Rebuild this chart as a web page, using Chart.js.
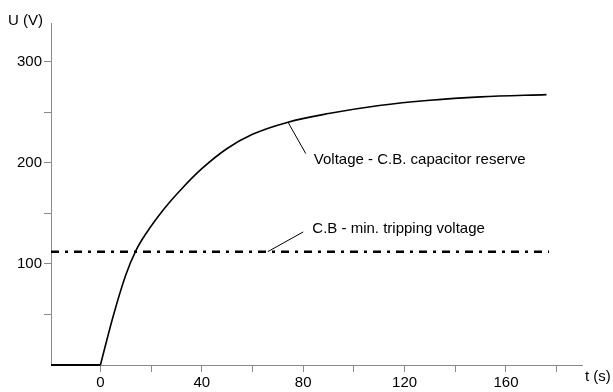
<!DOCTYPE html>
<html>
<head>
<meta charset="utf-8">
<script src="https://cdn.jsdelivr.net/npm/chart.js@4/dist/chart.umd.min.js"></script>
<style>
  html, body { margin: 0; padding: 0; background: #fff; }
  #wrap { width: 613px; height: 392px; }
</style>
</head>
<body>
<div id="wrap"><canvas id="graph-1"></canvas></div>
<script>
// values
const flatTime = [-19.5, 0];
const flatVoltage = [0, 0];
const timeS = [0, 5, 10, 14, 18, 25, 32, 40, 50, 60, 74, 90, 110, 130, 150, 176];
const voltageV = [0, 48, 89, 113, 130, 154, 174, 194, 214, 228, 240, 248.5, 256.5, 261.7, 265, 267.2];
const tripTime = [-19.5, 177];
const tripVoltage = [112, 112];
const xLabelTicks = [0, 40, 80, 120, 160];
const yLabelTicks = [100, 200, 300];

const axisGrey = "#8a8a8a";
const font = "Liberation Sans, Arial, sans-serif";

const labelsPlugin = {
  id: "labels",
  afterDraw(chart) {
    const c = chart.ctx;
    const x = chart.scales.x;
    const y = chart.scales.y;
    c.save();
    c.fillStyle = "#000";
    c.font = "15px " + font;
    c.textBaseline = "middle";
    c.textAlign = "left";
    c.fillText("U (V)", 8, 21);
    c.fillText("t (s)", 585, 377);

    // leader lines
    c.strokeStyle = "#000";
    c.lineWidth = 1;
    c.beginPath();
    c.moveTo(x.getPixelForValue(74), y.getPixelForValue(240));
    c.lineTo(x.getPixelForValue(81), y.getPixelForValue(209));
    c.moveTo(x.getPixelForValue(66), y.getPixelForValue(112));
    c.lineTo(x.getPixelForValue(80), y.getPixelForValue(131.5));
    c.stroke();

    c.fillText("Voltage - C.B. capacitor reserve", x.getPixelForValue(84.2), y.getPixelForValue(203));
    c.fillText("C.B - min. tripping voltage", x.getPixelForValue(83.6), y.getPixelForValue(135));
    c.restore();
  },
};

const ctx = document.getElementById("graph-1").getContext("2d");

const voltageChart = new Chart(ctx, {
  type: "scatter",
  data: {
    datasets: [
      {
        label: "before switching",
        data: flatTime.map((t, i) => ({ x: t, y: flatVoltage[i] })),
        showLine: true,
        borderColor: "#000",
        borderWidth: 2,
        pointRadius: 0,
        clip: 5,
      },
      {
        label: "Voltage - C.B. capacitor reserve",
        data: timeS.map((t, i) => ({ x: t, y: voltageV[i] })),
        showLine: true,
        borderColor: "#000",
        borderWidth: 1.6,
        pointRadius: 0,
        cubicInterpolationMode: "monotone",
        clip: 5,
      },
      {
        label: "C.B - min. tripping voltage",
        data: tripTime.map((t, i) => ({ x: t, y: tripVoltage[i] })),
        showLine: true,
        borderColor: "#000",
        borderWidth: 2.5,
        borderDash: [8, 6, 3, 6],
        pointRadius: 0,
      },
    ],
  },
  options: {
    responsive: true,
    maintainAspectRatio: false,
    animation: false,
    layout: { padding: { top: 23, right: 31, left: 0, bottom: 0 } },
    plugins: {
      legend: { display: false },
      tooltip: { enabled: false },
    },
    scales: {
      x: {
        type: "linear",
        min: -19.5,
        max: 190,
        afterFit: (s) => { s.height = 27; },
        border: { display: true, color: axisGrey, width: 1 },
        grid: {
          drawOnChartArea: false,
          drawTicks: true,
          tickLength: 7,
          color: axisGrey,
        },
        ticks: {
          stepSize: 20,
          includeBounds: false,
          autoSkip: false,
          maxRotation: 0,
          padding: 2,
          color: "#000",
          font: { family: font, size: 15 },
          callback: (v) => (xLabelTicks.includes(v) ? v : ""),
        },
      },
      y: {
        type: "linear",
        min: 0,
        max: 338,
        afterFit: (s) => { s.width = 51; },
        border: { display: true, color: axisGrey, width: 1 },
        grid: {
          drawOnChartArea: false,
          drawTicks: true,
          tickLength: 7,
          color: (c) => (c.tick && c.tick.value === 0 ? "rgba(0,0,0,0)" : axisGrey),
        },
        ticks: {
          stepSize: 50,
          includeBounds: false,
          autoSkip: false,
          padding: 2,
          color: "#000",
          font: { family: font, size: 15 },
          callback: (v) => (yLabelTicks.includes(v) ? v : ""),
        },
      },
    },
  },
  plugins: [labelsPlugin],
});
</script>
</body>
</html>
